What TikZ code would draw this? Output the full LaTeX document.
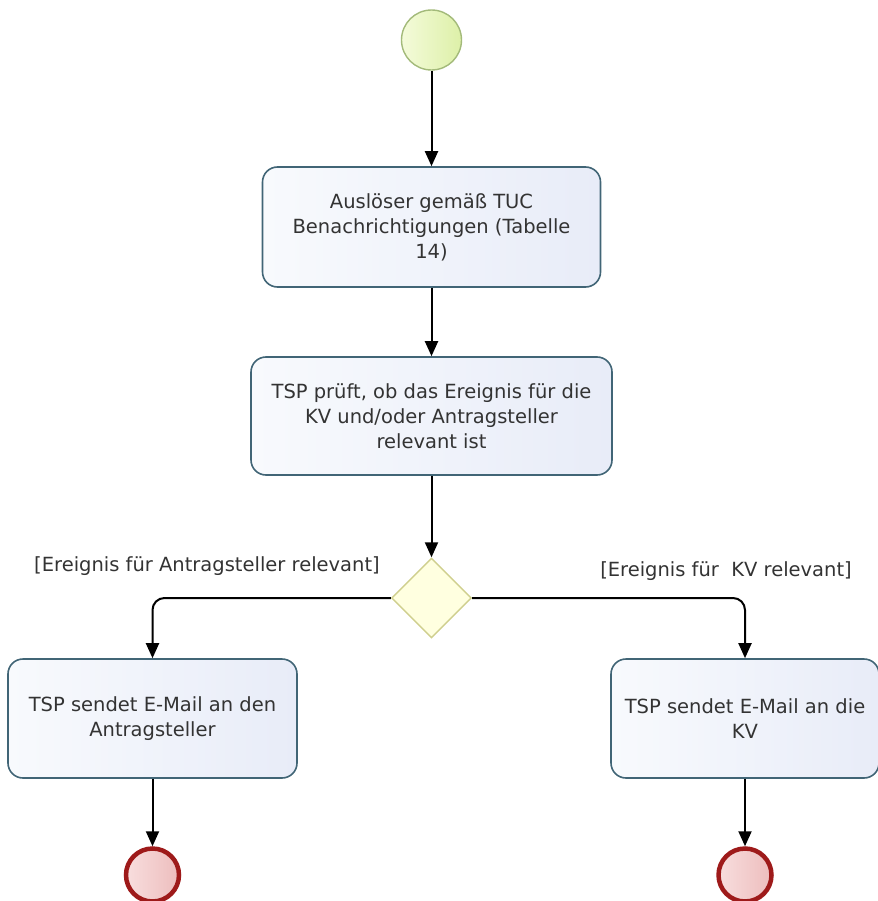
\documentclass[tikz,border=0pt]{standalone}
\usepackage{fontspec}
\setmainfont{DejaVu Sans}
\usetikzlibrary{shapes.geometric}
\usetikzlibrary{arrows.meta}
\definecolor{txtgray}{HTML}{333333}
\definecolor{boxline}{HTML}{416576}
\definecolor{boxL}{HTML}{F8FAFD}
\definecolor{boxR}{HTML}{E8ECF8}
\definecolor{startline}{HTML}{A3BA7A}
\definecolor{startL}{HTML}{F4FBDA}
\definecolor{startR}{HTML}{DDF0A8}
\definecolor{endline}{HTML}{9E1A1A}
\definecolor{endL}{HTML}{F8DEDE}
\definecolor{endR}{HTML}{EDBDBD}
\definecolor{gwline}{HTML}{CFCF8E}
\definecolor{gwfill}{HTML}{FFFFE0}

\begin{document}
\begin{tikzpicture}[x=1pt,y=-1pt,
    every node/.style={font=\fontsize{19.5}{25}\selectfont, text=txtgray},
    task/.style={draw=boxline, line width=1.6pt, rounded corners=15pt, left color=boxL, right color=boxR, align=center, inner sep=0pt},
    startev/.style={circle, draw=startline, line width=1.4pt, left color=startL, right color=startR, minimum size=60pt, inner sep=0pt},
    endev/.style={circle, draw=endline, line width=4.5pt, left color=endL, right color=endR, minimum size=53pt, inner sep=0pt},
    gateway/.style={diamond, draw=gwline, line width=1.4pt, fill=gwfill, minimum size=80pt, inner sep=0pt},
    flow/.style={line width=2pt, -{Triangle[length=15pt,width=13pt]}}]
\useasboundingbox (0,0) rectangle (877,901);

\node[startev] (start) at (431.5,40) {};
\node[task, minimum width=338pt, minimum height=120pt] (trigger) at (431.5,227) {Auslöser gemäß TUC\\Benachrichtigungen (Tabelle\\14)};
\node[task, minimum width=361pt, minimum height=118pt] (check) at (431.5,416) {TSP prüft, ob das Ereignis für die\\KV und/oder Antragsteller\\relevant ist};
\node[gateway] (gw) at (431.5,598) {};
\node[task, minimum width=289pt, minimum height=119pt] (mailA) at (152.5,718.5) {TSP sendet E-Mail an den\\Antragsteller};
\node[task, minimum width=268pt, minimum height=119pt] (mailKV) at (745,718.5) {TSP sendet E-Mail an die\\KV};
\node[endev] (endA) at (152.5,875) {};
\node[endev] (endKV) at (745,875) {};

\node (labA) at (207,566) {[Ereignis für Antragsteller relevant]};
\node (labKV) at (726,571) {[Ereignis für\ \ KV relevant]};

\draw[flow] (start) -- (trigger);
\draw[flow] (trigger) -- (check);
\draw[flow] (check) -- (gw);
\draw[flow, rounded corners=12pt] (gw.west) -| (mailA.north);
\draw[flow, rounded corners=12pt] (gw.east) -| (mailKV.north);
\draw[flow] (mailA) -- (endA);
\draw[flow] (mailKV) -- (endKV);
\end{tikzpicture}
\end{document}
